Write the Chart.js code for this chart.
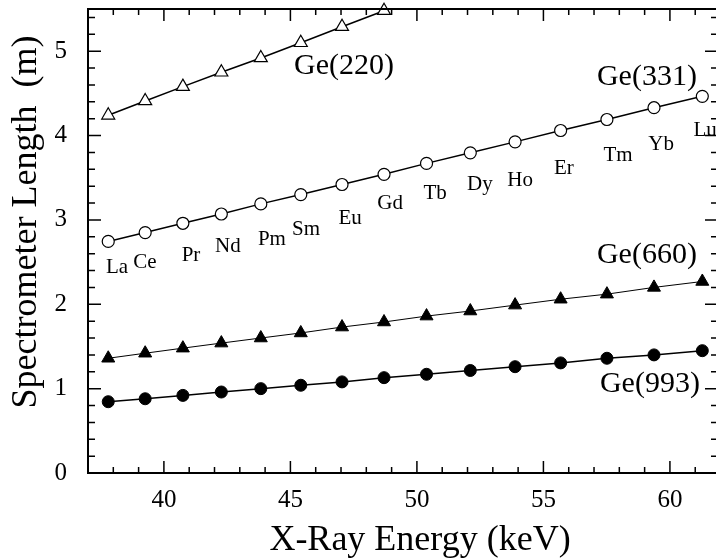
<!DOCTYPE html>
<html>
<head>
<meta charset="utf-8">
<script src="https://cdn.jsdelivr.net/npm/chart.js@4.4.1/dist/chart.umd.min.js"></script>
<style>
  html, body { margin: 0; padding: 0; background: #fff; overflow: hidden; }
  canvas { display: block; width: 722px; height: 558px; }
</style>
</head>
<body>
<canvas id="grafico" width="722" height="558"></canvas>
<script>
// energias K-beta (keV) de cada elemento
const energia = [37.80, 39.26, 40.75, 42.27, 43.83, 45.41, 47.04, 48.70, 50.38, 52.11, 53.88, 55.68, 57.51, 59.37, 61.28];
const elementos = ["La", "Ce", "Pr", "Nd", "Pm", "Sm", "Eu", "Gd", "Tb", "Dy", "Ho", "Er", "Tm", "Yb", "Lu"];

// comprimento do espectrometro (m) para cada cristal
const ge220 = [4.24, 4.41, 4.58, 4.75, 4.92, 5.10, 5.29, 5.48];
const ge331 = [2.745, 2.85, 2.96, 3.07, 3.19, 3.30, 3.42, 3.54, 3.67, 3.795, 3.925, 4.06, 4.19, 4.33, 4.465];
const ge660 = [1.36, 1.42, 1.48, 1.54, 1.60, 1.66, 1.73, 1.79, 1.86, 1.92, 1.99, 2.06, 2.12, 2.20, 2.27];
const ge993 = [0.845, 0.88, 0.92, 0.96, 1.00, 1.04, 1.08, 1.13, 1.17, 1.215, 1.26, 1.305, 1.36, 1.40, 1.45];

// ticks dos eixos
const ticksX = [40, 45, 50, 55, 60];
const ticksY = [0, 1, 2, 3, 4, 5];

// posicao (em coordenadas dos dados) dos rotulos dos elementos
const rotuloX = [38.15, 39.25, 41.07, 42.53, 44.27, 45.62, 47.36, 48.94, 50.72, 52.49, 54.08, 55.81, 57.95, 59.65, 61.39];
const rotuloY = [2.44, 2.50, 2.58, 2.69, 2.77, 2.89, 3.02, 3.20, 3.31, 3.42, 3.47, 3.61, 3.76, 3.89, 4.06];

// nomes das series e onde ficam escritos
const nomesSeries = ["Ge(220)", "Ge(331)", "Ge(660)", "Ge(993)"];
const nomesX = [47.12, 59.09, 59.09, 59.21];
const nomesY = [4.82, 4.69, 2.58, 1.05];

const fonte = "'Liberation Serif', 'Times New Roman', serif";

function pontos(valores) {
  return valores.map((v, i) => ({ x: energia[i], y: v }));
}

// desenha moldura, ticks para dentro e textos
const extras = {
  id: "extras",
  afterDraw(chart) {
    const ctx = chart.ctx;
    const a = chart.chartArea;
    const sx = chart.scales.x;
    const sy = chart.scales.y;
    ctx.save();
    ctx.strokeStyle = "#000";
    ctx.lineWidth = 2;
    ctx.strokeRect(a.left, a.top, a.right - a.left, a.bottom - a.top);

    ctx.lineWidth = 1.5;
    ctx.beginPath();
    for (let v = 37; v <= 61.9; v += 1) {
      const px = sx.getPixelForValue(v);
      const len = v % 5 === 0 ? 12 : 6;
      ctx.moveTo(px, a.bottom); ctx.lineTo(px, a.bottom - len);
      ctx.moveTo(px, a.top); ctx.lineTo(px, a.top + len);
    }
    for (let k = 0; k <= 27; k++) {
      const v = k * 0.2;
      const py = sy.getPixelForValue(v);
      const len = k % 5 === 0 ? 13 : 7;
      ctx.moveTo(a.left, py); ctx.lineTo(a.left + len, py);
      ctx.moveTo(a.right, py); ctx.lineTo(a.right - len, py);
    }
    ctx.stroke();

    ctx.fillStyle = "#000";
    ctx.textAlign = "center";
    ctx.textBaseline = "middle";

    ctx.font = "21px " + fonte;
    elementos.forEach((el, i) => {
      ctx.fillText(el, sx.getPixelForValue(rotuloX[i]), sy.getPixelForValue(rotuloY[i]));
    });

    ctx.font = "30px " + fonte;
    nomesSeries.forEach((n, i) => {
      ctx.fillText(n, sx.getPixelForValue(nomesX[i]), sy.getPixelForValue(nomesY[i]));
    });

    // titulos dos eixos
    ctx.font = "36px " + fonte;
    ctx.textBaseline = "alphabetic";
    ctx.fillText("X-Ray Energy (keV)", 420, 550);
    ctx.translate(36, 222);
    ctx.rotate(-Math.PI / 2);
    ctx.fillText("Spectrometer Length  (m)", 0, 0);
    ctx.restore();
  }
};

function grafico() {
  const ctx = document.getElementById("grafico");
  new Chart(ctx, {
    type: "line",
    data: {
      datasets: [
        {
          label: "Ge(220)",
          data: pontos(ge220),
          borderColor: "#000",
          borderWidth: 1.5,
          pointStyle: "triangle",
          pointRadius: 7.5,
          pointBorderWidth: 1.2,
          pointBackgroundColor: "#fff",
          pointBorderColor: "#000",
          clip: false,
        },
        {
          label: "Ge(331)",
          data: pontos(ge331),
          borderColor: "#000",
          borderWidth: 1.5,
          pointStyle: "circle",
          pointRadius: 6,
          pointBorderWidth: 1.2,
          pointBackgroundColor: "#fff",
          pointBorderColor: "#000",
        },
        {
          label: "Ge(660)",
          data: pontos(ge660),
          borderColor: "#000",
          borderWidth: 1,
          pointStyle: "triangle",
          pointRadius: 7.5,
          pointBorderWidth: 1,
          pointBackgroundColor: "#000",
          pointBorderColor: "#000",
        },
        {
          label: "Ge(993)",
          data: pontos(ge993),
          borderColor: "#000",
          borderWidth: 1.5,
          pointStyle: "circle",
          pointRadius: 6,
          pointBorderWidth: 1,
          pointBackgroundColor: "#000",
          pointBorderColor: "#000",
        },
      ],
    },
    options: {
      responsive: false,
      animation: false,
      layout: { autoPadding: false, padding: { top: 9, right: 4, left: 0, bottom: 0 } },
      plugins: { legend: { display: false }, tooltip: { enabled: false } },
      elements: { line: { tension: 0 } },
      scales: {
        x: {
          type: "linear",
          min: 37,
          max: 61.9,
          grid: { display: false },
          border: { display: false },
          ticks: { color: "#000", font: { family: fonte, size: 25 }, padding: 4, maxRotation: 0 },
          afterBuildTicks: (s) => { s.ticks = ticksX.map((v) => ({ value: v })); },
          afterFit: (s) => { s.height = 85; s.paddingLeft = 0; s.paddingRight = 0; },
        },
        y: {
          min: 0,
          max: 5.5,
          grid: { display: false },
          border: { display: false },
          ticks: { color: "#000", font: { family: fonte, size: 25 }, padding: 13 },
          afterBuildTicks: (s) => { s.ticks = ticksY.map((v) => ({ value: v })); },
          afterFit: (s) => { s.width = 88; s.paddingTop = 0; s.paddingBottom = 0; },
        },
      },
    },
    plugins: [extras],
  });
}

grafico();
</script>
</body>
</html>
